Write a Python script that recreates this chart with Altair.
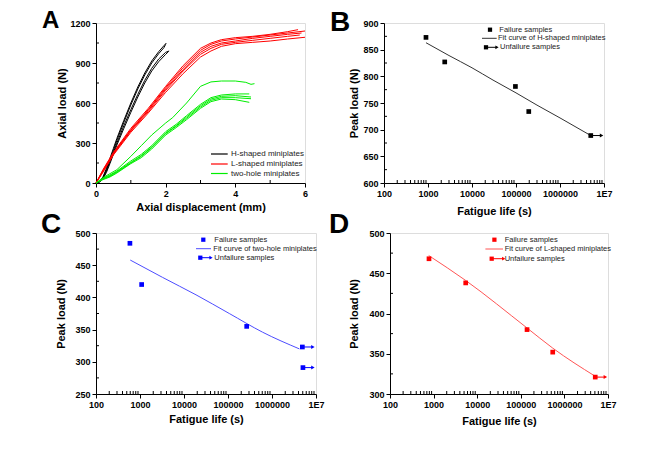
import altair as alt
import pandas as pd

FONT = "Liberation Sans, Arial, sans-serif"

panel_letters = ["A", "B", "C", "D"]

# ---------------- Panel A : load-displacement curves ----------------
a_group_names = ["H-shaped miniplates", "L-shaped miniplates", "two-hole miniplates"]
a_group_colors = ["#000000", "#ff0000", "#00ee00"]

h_disp = [
    [0, 0.1, 0.2, 0.3, 0.4, 0.5, 0.6, 0.8, 1.0, 1.2, 1.4, 1.6, 1.8, 1.95, 2.02],
    [0, 0.1, 0.2, 0.3, 0.4, 0.5, 0.6, 0.8, 1.0, 1.2, 1.4, 1.6, 1.8, 1.95, 2.0],
    [0, 0.1, 0.2, 0.3, 0.4, 0.5, 0.6, 0.8, 1.0, 1.2, 1.4, 1.6, 1.8, 2.0, 2.1],
    [0, 0.1, 0.2, 0.3, 0.4, 0.5, 0.6, 0.8, 1.0, 1.2, 1.4, 1.6, 1.8, 2.0, 2.08],
]
h_load = [
    [0, 12, 45, 110, 185, 260, 335, 470, 600, 720, 825, 915, 985, 1030, 1050],
    [0, 10, 40, 100, 170, 245, 320, 455, 585, 705, 810, 900, 970, 1015, 1040],
    [0, 8, 35, 90, 160, 230, 300, 430, 550, 665, 770, 860, 930, 980, 990],
    [0, 6, 30, 80, 145, 215, 285, 410, 530, 645, 750, 840, 910, 965, 985],
]
l_disp = [
    [0, 0.2, 0.5, 1.0, 1.5, 2.0, 2.5, 3.0, 3.3, 3.6, 4.0, 4.5, 5.0, 5.5, 5.8],
    [0, 0.2, 0.5, 1.0, 1.5, 2.0, 2.5, 3.0, 3.3, 3.6, 4.0, 4.5, 5.0, 5.5, 6.0],
    [0, 0.2, 0.5, 1.0, 1.5, 2.0, 2.5, 3.0, 3.3, 3.6, 4.0, 4.5, 5.0, 5.5, 5.9],
    [0, 0.2, 0.5, 1.0, 1.5, 2.0, 2.5, 3.0, 3.3, 3.6, 4.0, 4.5, 5.0, 5.5, 5.85],
    [0, 0.2, 0.5, 1.0, 1.5, 2.0, 2.5, 3.0, 3.3, 3.6, 4.0, 4.5, 5.0, 5.5, 6.0],
]
l_load = [
    [0, 100, 230, 410, 560, 725, 880, 1010, 1050, 1075, 1090, 1100, 1115, 1135, 1150],
    [0, 95, 225, 400, 550, 715, 865, 995, 1040, 1065, 1080, 1095, 1110, 1125, 1140],
    [0, 90, 220, 395, 545, 705, 850, 980, 1025, 1050, 1065, 1085, 1100, 1115, 1125],
    [0, 85, 215, 390, 535, 695, 840, 965, 1010, 1040, 1055, 1070, 1085, 1100, 1110],
    [0, 80, 210, 380, 525, 680, 820, 945, 990, 1025, 1045, 1055, 1065, 1080, 1093],
]
g_disp = [
    [0, 0.2, 0.4, 0.6, 1.0, 1.3, 1.6, 2.0, 2.2, 2.6, 3.0, 3.3, 3.6, 4.0, 4.3, 4.45, 4.55],
    [0, 0.2, 0.4, 0.6, 1.0, 1.3, 1.6, 2.0, 2.3, 2.6, 3.0, 3.3, 3.6, 4.0, 4.4],
    [0, 0.2, 0.4, 0.6, 1.0, 1.3, 1.6, 2.0, 2.3, 2.6, 3.0, 3.3, 3.6, 4.0, 4.45],
    [0, 0.2, 0.4, 0.6, 1.0, 1.3, 1.6, 2.0, 2.3, 2.6, 3.0, 3.3, 3.6, 4.0, 4.45],
    [0, 0.2, 0.4, 0.6, 1.0, 1.3, 1.6, 2.0, 2.3, 2.6, 3.0, 3.3, 3.6, 4.0, 4.4],
]
g_load = [
    [0, 40, 70, 100, 200, 280, 360, 450, 490, 600, 725, 758, 765, 765, 755, 740, 745],
    [0, 35, 60, 90, 165, 215, 280, 385, 440, 505, 590, 640, 660, 668, 668],
    [0, 30, 55, 85, 155, 205, 270, 375, 430, 495, 580, 630, 650, 655, 645],
    [0, 30, 50, 80, 150, 200, 265, 370, 425, 485, 570, 620, 640, 640, 632],
    [0, 25, 45, 75, 145, 190, 255, 360, 415, 475, 560, 610, 630, 625, 605],
]
a_x_major = [0, 2, 4, 6]
a_x_minor = [1, 3, 5]
a_y_major = [0, 300, 600, 900, 1200]
a_y_minor = [150, 450, 750, 1050]

# ---------------- Fatigue panels ----------------
log_major = [100, 1000, 10000, 100000, 1000000, 10000000]
log_minor = [m * d for d in [100, 1000, 10000, 100000, 1000000] for m in range(2, 10)]

b_fail_life = [900, 2400, 97000, 195000]
b_fail_load = [873, 827, 781, 734]
b_unf_life = [5000000]
b_unf_load = [689]
b_unf_end = [8800000]
b_fit_life = [900, 3000, 10000, 30000, 100000, 300000, 1000000, 5000000]
b_fit_load = [863, 839, 816, 793, 769, 746, 722, 689]

c_fail_life = [590, 1090, 266000]
c_fail_load = [484, 420, 355]
c_unf_life = [4900000, 5050000]
c_unf_load = [323, 291]
c_unf_end = [8500000, 8500000]
c_fit_life = [600, 3270, 18750, 107000, 610000, 4200000]
c_fit_load = [458, 431, 404, 375, 346, 320]

d_fail_life = [784, 5450, 139000, 540000]
d_fail_load = [468, 438, 380, 352]
d_unf_life = [5100000]
d_unf_load = [321]
d_unf_end = [8700000]
d_fit_life = [773, 5450, 139000, 540000, 5100000]
d_fit_load = [472, 441, 382, 357, 322]

legend_fail = "Failure samples"
legend_unfail = "Unfailure samples"
fit_labels = ["Fit curve of H-shaped miniplates",
              "Fit curve of two-hole miniplates",
              "Fit curve of L-shaped miniplates"]


def axis_common(**kw):
    base = dict(tickSize=4, labelPadding=2, grid=False, domainColor="black",
                tickColor="black", labelColor="black", titleColor="black",
                labelFont=FONT, labelFontWeight="bold", labelFontSize=9,
                titleFont=FONT, titleFontWeight="bold", titleFontSize=11,
                labelFlush=False, labelOverlap=False)
    base.update(kw)
    return alt.Axis(**base)


def one():
    return alt.Chart(pd.DataFrame({"k": [0]}))


def letter_layer(letter, x, y, size):
    return alt.Chart(pd.DataFrame({"t": [letter]})).mark_text(
        font=FONT, fontSize=size, fontWeight="bold", align="left",
        baseline="alphabetic", color="black").encode(
        x=alt.value(x), y=alt.value(y), text="t:N")


# ---------- build panel A ----------
W_A, H_A = 209, 160
rows = []
for gname, dl, ll in zip(a_group_names, [h_disp, l_disp, g_disp], [h_load, l_load, g_load]):
    for ci, (dx, ly) in enumerate(zip(dl, ll)):
        for i, (xv, yv) in enumerate(zip(dx, ly)):
            rows.append({"group": gname, "curve": f"{gname}-{ci}", "i": i, "disp": xv, "load": yv})
df_a = pd.DataFrame(rows)

a_xs = alt.Scale(domain=[0, 6], nice=False, zero=False)
a_ys = alt.Scale(domain=[0, 1200], nice=False)
a_xax = axis_common(values=a_x_major, format="d", title="Axial displacement (mm)", titlePadding=3)
a_yax = axis_common(values=a_y_major, format="d", title="Axial load (N)", titlePadding=2)
a_lines = alt.Chart(df_a).mark_line(strokeWidth=1).encode(
    x=alt.X("disp:Q", scale=a_xs, axis=a_xax),
    y=alt.Y("load:Q", scale=a_ys, axis=a_yax),
    color=alt.Color("group:N", scale=alt.Scale(domain=a_group_names, range=a_group_colors), legend=None),
    detail="curve:N", order="i:Q")
a_minx = alt.Chart(pd.DataFrame({"disp": a_x_minor})).mark_rule(color="black").encode(
    x=alt.X("disp:Q", scale=a_xs, axis=a_xax), y=alt.value(H_A), y2=alt.value(H_A - 3))
a_miny = alt.Chart(pd.DataFrame({"load": a_y_minor})).mark_rule(color="black").encode(
    y=alt.Y("load:Q", scale=a_ys, axis=a_yax), x=alt.value(0), x2=alt.value(3))
a_layers = [a_lines, a_minx, a_miny]
for name, col, yy in zip(a_group_names, a_group_colors, [131, 141, 150.5]):
    a_layers.append(one().mark_rule(color=col, strokeWidth=1.2).encode(
        x=alt.value(115), x2=alt.value(131.7), y=alt.value(yy)))
    a_layers.append(one().mark_text(text=name, align="left", baseline="middle", font=FONT,
                                    fontSize=8, color="#222").encode(x=alt.value(135), y=alt.value(yy)))
a_layers.append(letter_layer(panel_letters[0], -54, 5, 24))
# letter of panel C drawn from this panel (positive offsets only)
a_layers.append(letter_layer(panel_letters[2], -55, 210, 28))
panel_a = alt.layer(*a_layers).properties(width=W_A, height=H_A)


def fatigue_panel(letter, W, H, ydom, ymajor, yminor, fail_life, fail_load, unf_life, unf_load,
                  unf_end, fit_life, fit_load, pt_color, fit_color, fit_label, leg, letters,
                  ytp, xtp):
    xs = alt.Scale(type="log", domain=[100, 10000000], nice=False)
    ys = alt.Scale(domain=ydom, nice=False, zero=False)
    xax = axis_common(values=log_major,
                      labelExpr="datum.value >= 10000000 ? '1E7' : format(datum.value, 'd')",
                      title="Fatigue life (s)", titlePadding=xtp)
    yax = axis_common(values=ymajor, format="d", title="Peak load (N)", titlePadding=ytp)

    def X(f):
        return alt.X(f"{f}:Q", scale=xs, axis=xax)

    def Y(f):
        return alt.Y(f"{f}:Q", scale=ys, axis=yax)

    fit = alt.Chart(pd.DataFrame({"life": fit_life, "load": fit_load})).mark_line(
        color=fit_color, strokeWidth=1, interpolate="monotone").encode(x=X("life"), y=Y("load"))
    minx = alt.Chart(pd.DataFrame({"life": log_minor})).mark_rule(color="black").encode(
        x=X("life"), y=alt.value(H), y2=alt.value(H - 3))
    miny = alt.Chart(pd.DataFrame({"load": yminor})).mark_rule(color="black").encode(
        y=Y("load"), x=alt.value(0), x2=alt.value(3))
    fail = alt.Chart(pd.DataFrame({"life": fail_life, "load": fail_load})).mark_square(
        size=22, color=pt_color, opacity=1).encode(x=X("life"), y=Y("load"))
    df_u = pd.DataFrame({"life": unf_life, "load": unf_load, "end": unf_end})
    shaft = alt.Chart(df_u).mark_rule(color=pt_color, strokeWidth=1).encode(
        x=X("life"), x2="end:Q", y=Y("load"))
    head = alt.Chart(df_u).mark_point(shape="triangle-right", filled=True, size=16,
                                      color=pt_color, opacity=1).encode(x=X("end"), y=Y("load"))
    unf = alt.Chart(df_u).mark_square(size=22, color=pt_color, opacity=1).encode(
        x=X("life"), y=Y("load"))
    layers = [fit, minx, miny, shaft, head, fail, unf]
    # legend
    (sq_x, sq_y, t1_x), (ln_x1, ln_x2, ln_y, t2_x), (u_x, u_end, u_y, t3_x) = leg
    tprops = dict(align="left", baseline="middle", font=FONT, fontSize=7.5, color="#222")
    layers += [
        one().mark_square(size=18, color=pt_color, opacity=1).encode(x=alt.value(sq_x), y=alt.value(sq_y)),
        one().mark_text(text=legend_fail, **tprops).encode(x=alt.value(t1_x), y=alt.value(sq_y)),
        one().mark_rule(color=fit_color, strokeWidth=1).encode(x=alt.value(ln_x1), x2=alt.value(ln_x2), y=alt.value(ln_y)),
        one().mark_text(text=fit_label, **tprops).encode(x=alt.value(t2_x), y=alt.value(ln_y)),
        one().mark_rule(color=pt_color, strokeWidth=1).encode(x=alt.value(u_x), x2=alt.value(u_end), y=alt.value(u_y)),
        one().mark_point(shape="triangle-right", filled=True, size=14, color=pt_color, opacity=1).encode(
            x=alt.value(u_end), y=alt.value(u_y)),
        one().mark_square(size=18, color=pt_color, opacity=1).encode(x=alt.value(u_x), y=alt.value(u_y)),
        one().mark_text(text=legend_unfail, **tprops).encode(x=alt.value(t3_x), y=alt.value(u_y)),
    ]
    for (lt, lx, ly) in letters:
        layers.append(letter_layer(lt, lx, ly, 28))
    return alt.layer(*layers).properties(width=W, height=H)


panel_b = fatigue_panel(
    panel_letters[1], 220, 160, [600, 900], [600, 650, 700, 750, 800, 850, 900],
    [625, 675, 725, 775, 825, 875],
    b_fail_life, b_fail_load, b_unf_life, b_unf_load, b_unf_end, b_fit_life, b_fit_load,
    "#000000", "#333333", fit_labels[0],
    ((106, 6.7, 115.3), (98, 112.7, 15.3, 114), (102, 113, 24.3, 116)),
    [(panel_letters[1], -54, 8), (panel_letters[3], -55, 210)], 3, 7)

panel_c = fatigue_panel(
    panel_letters[2], 220, 161, [250, 500], [250, 300, 350, 400, 450, 500],
    [275, 325, 375, 425, 475],
    c_fail_life, c_fail_load, c_unf_life, c_unf_load, c_unf_end, c_fit_life, c_fit_load,
    "#0000ff", "#4d4dff", fit_labels[1],
    ((107.3, 6.7, 118.3), (100, 115, 15.7, 117.3), (104.3, 115, 24.7, 118.3)),
    [], 8, 4)

panel_d = fatigue_panel(
    panel_letters[3], 218, 161, [300, 500], [300, 350, 400, 450, 500],
    [325, 375, 425, 475],
    d_fail_life, d_fail_load, d_unf_life, d_unf_load, d_unf_end, d_fit_life, d_fit_load,
    "#ff0000", "#ff5555", fit_labels[2],
    ((104.4, 6.7, 114.7), (95.4, 113, 16, 114.7), (101.7, 113.7, 25.7, 114.7)),
    [], 9, 6)

row1 = alt.hconcat(panel_a, panel_b, spacing=79, bounds="flush")
row2 = alt.hconcat(panel_c, panel_d, spacing=74, bounds="flush")
chart = alt.vconcat(row1, row2, spacing=210, bounds="flush",
                    padding={"left": 32, "top": 0, "right": 5, "bottom": 5}).configure_view(
    stroke="black", strokeWidth=1).configure_axis(labelOverlap=False).configure(background="white")

chart.save("out.html", embed_options={"renderer": "svg", "actions": False})
